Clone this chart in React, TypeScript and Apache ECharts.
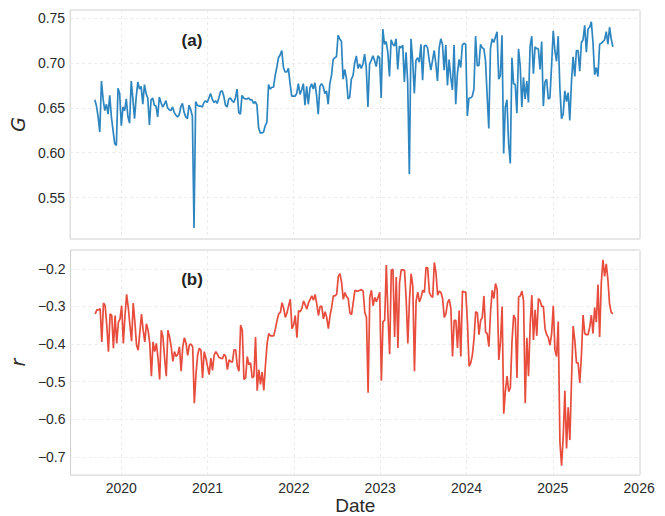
import React, { useEffect, useRef } from "react";
import * as echarts from "echarts";

// ---------- data ----------
const START_DATE = "2019-09-13"; // first weekly observation
const STEP_DAYS = 7;
const xTickYears = [2020, 2021, 2022, 2023, 2024, 2025, 2026];
const gTickLabels = ["0.55", "0.60", "0.65", "0.70", "0.75"];
const rTickLabels = ["−0.7", "−0.6", "−0.5", "−0.4", "−0.3", "−0.2"];

const gValues = [
  0.659, 0.652, 0.640, 0.623, 0.680, 0.660, 0.647, 0.654, 0.643, 0.664,
  0.640, 0.625, 0.610, 0.608, 0.672, 0.666, 0.630, 0.651, 0.647, 0.660,
  0.640, 0.633, 0.680, 0.660, 0.638, 0.662, 0.679, 0.671, 0.674, 0.654,
  0.676, 0.666, 0.661, 0.631, 0.659, 0.661, 0.653, 0.652, 0.640, 0.662,
  0.656, 0.651, 0.654, 0.658, 0.650, 0.648, 0.647, 0.651, 0.645, 0.642,
  0.640, 0.642, 0.651, 0.655, 0.645, 0.640, 0.638, 0.653, 0.648, 0.641,
  0.516, 0.657, 0.653, 0.652, 0.652, 0.651, 0.656, 0.658, 0.656, 0.661,
  0.666, 0.660, 0.656, 0.658, 0.655, 0.661, 0.668, 0.669, 0.663, 0.653,
  0.651, 0.660, 0.661, 0.658, 0.656, 0.661, 0.671, 0.645, 0.643, 0.664,
  0.661, 0.660, 0.660, 0.661, 0.659, 0.659, 0.655, 0.657, 0.653, 0.628,
  0.622, 0.622, 0.623, 0.630, 0.634, 0.676, 0.671, 0.673, 0.673, 0.686,
  0.695, 0.706, 0.709, 0.714, 0.695, 0.690, 0.690, 0.694, 0.677, 0.663,
  0.663, 0.663, 0.666, 0.677, 0.665, 0.670, 0.677, 0.653, 0.674, 0.654,
  0.672, 0.677, 0.671, 0.678, 0.664, 0.643, 0.674, 0.677, 0.674, 0.666,
  0.669, 0.654, 0.677, 0.686, 0.704, 0.706, 0.707, 0.731, 0.727, 0.724,
  0.682, 0.693, 0.683, 0.660, 0.662, 0.682, 0.686, 0.700, 0.708, 0.694,
  0.699, 0.694, 0.699, 0.710, 0.695, 0.651, 0.699, 0.703, 0.708, 0.703,
  0.696, 0.708, 0.706, 0.661, 0.738, 0.721, 0.724, 0.712, 0.685, 0.726,
  0.721, 0.719, 0.727, 0.693, 0.719, 0.717, 0.720, 0.679, 0.712, 0.679,
  0.576, 0.727, 0.703, 0.666, 0.703, 0.706, 0.701, 0.721, 0.681, 0.719,
  0.720, 0.717, 0.703, 0.692, 0.703, 0.714, 0.699, 0.680, 0.717, 0.727,
  0.721, 0.692, 0.720, 0.675, 0.704, 0.684, 0.670, 0.720, 0.654, 0.688,
  0.704, 0.695, 0.720, 0.722, 0.721, 0.641, 0.661, 0.661, 0.663, 0.671,
  0.730, 0.697, 0.697, 0.721, 0.717, 0.716, 0.703, 0.664, 0.627, 0.716,
  0.727, 0.723, 0.729, 0.735, 0.682, 0.686, 0.731, 0.599, 0.651, 0.659,
  0.610, 0.588, 0.706, 0.677, 0.676, 0.644, 0.716, 0.697, 0.651, 0.684,
  0.660, 0.680, 0.656, 0.719, 0.730, 0.688, 0.718, 0.716, 0.716, 0.693,
  0.724, 0.652, 0.679, 0.682, 0.660, 0.661, 0.697, 0.736, 0.714, 0.702,
  0.730, 0.673, 0.638, 0.643, 0.669, 0.657, 0.667, 0.636, 0.679, 0.707,
  0.685, 0.714, 0.714, 0.691, 0.723, 0.726, 0.742, 0.712, 0.738, 0.740,
  0.746, 0.723, 0.687, 0.695, 0.685, 0.721, 0.722, 0.724, 0.726, 0.735,
  0.721, 0.740, 0.727, 0.718,
];

const rValues = [
  -0.320, -0.309, -0.309, -0.306, -0.394, -0.291, -0.298, -0.350, -0.420, -0.320,
  -0.324, -0.411, -0.324, -0.398, -0.342, -0.333, -0.298, -0.398, -0.324, -0.268,
  -0.303, -0.350, -0.392, -0.291, -0.342, -0.403, -0.416, -0.368, -0.320, -0.363,
  -0.394, -0.346, -0.363, -0.398, -0.485, -0.394, -0.420, -0.398, -0.437, -0.494,
  -0.363, -0.381, -0.437, -0.485, -0.363, -0.381, -0.407, -0.446, -0.420, -0.433,
  -0.427, -0.407, -0.472, -0.407, -0.383, -0.398, -0.430, -0.402, -0.400, -0.407,
  -0.557, -0.481, -0.429, -0.411, -0.416, -0.490, -0.420, -0.437, -0.459, -0.481,
  -0.437, -0.470, -0.429, -0.420, -0.427, -0.436, -0.437, -0.439, -0.427, -0.433,
  -0.468, -0.442, -0.446, -0.448, -0.415, -0.415, -0.459, -0.472, -0.349, -0.363,
  -0.494, -0.490, -0.433, -0.455, -0.450, -0.490, -0.485, -0.381, -0.524, -0.468,
  -0.507, -0.474, -0.523, -0.455, -0.398, -0.372, -0.378, -0.378, -0.378, -0.359,
  -0.337, -0.320, -0.316, -0.290, -0.305, -0.329, -0.317, -0.298, -0.281, -0.359,
  -0.349, -0.324, -0.383, -0.311, -0.314, -0.305, -0.285, -0.296, -0.307, -0.290,
  -0.281, -0.272, -0.283, -0.268, -0.294, -0.324, -0.300, -0.300, -0.333, -0.314,
  -0.329, -0.359, -0.324, -0.302, -0.272, -0.272, -0.268, -0.220, -0.213, -0.237,
  -0.281, -0.263, -0.274, -0.279, -0.317, -0.322, -0.290, -0.257, -0.259, -0.259,
  -0.257, -0.255, -0.259, -0.316, -0.329, -0.529, -0.276, -0.257, -0.298, -0.276,
  -0.287, -0.276, -0.262, -0.497, -0.340, -0.337, -0.190, -0.324, -0.427, -0.204,
  -0.201, -0.381, -0.222, -0.410, -0.237, -0.203, -0.203, -0.204, -0.281, -0.398,
  -0.281, -0.213, -0.246, -0.472, -0.285, -0.262, -0.288, -0.276, -0.257, -0.263,
  -0.196, -0.198, -0.263, -0.272, -0.276, -0.183, -0.211, -0.270, -0.259, -0.263,
  -0.279, -0.329, -0.320, -0.290, -0.281, -0.305, -0.433, -0.337, -0.337, -0.410,
  -0.311, -0.433, -0.259, -0.262, -0.262, -0.343, -0.459, -0.450, -0.429, -0.385,
  -0.314, -0.317, -0.375, -0.337, -0.329, -0.272, -0.368, -0.372, -0.407, -0.314,
  -0.257, -0.279, -0.239, -0.255, -0.442, -0.394, -0.300, -0.585, -0.524, -0.485,
  -0.526, -0.516, -0.392, -0.323, -0.333, -0.490, -0.274, -0.272, -0.259, -0.285,
  -0.557, -0.383, -0.485, -0.349, -0.270, -0.389, -0.309, -0.378, -0.279, -0.285,
  -0.300, -0.300, -0.359, -0.375, -0.383, -0.403, -0.372, -0.298, -0.416, -0.433,
  -0.340, -0.659, -0.723, -0.646, -0.524, -0.677, -0.568, -0.655, -0.498, -0.352,
  -0.390, -0.450, -0.450, -0.503, -0.429, -0.323, -0.372, -0.375, -0.375, -0.355,
  -0.323, -0.372, -0.303, -0.342, -0.242, -0.381, -0.237, -0.176, -0.220, -0.187,
  -0.229, -0.294, -0.316, -0.320,
];

// ---------- helpers ----------
const DAY_MS = 24 * 3600 * 1000;
function toFracYear(t: number): number {
  const d = new Date(t);
  const y = d.getUTCFullYear();
  const s = Date.UTC(y, 0, 1);
  const e = Date.UTC(y + 1, 0, 1);
  return y + (t - s) / (e - s);
}
const startMs = Date.parse(START_DATE + "T00:00:00Z");
function weeklyPairs(values: number[]): [number, number][] {
  return values.map((v, i) => [toFracYear(startMs + i * STEP_DAYS * DAY_MS), v]);
}
function isMultiple(v: number, step: number): boolean {
  const k = v / step;
  return Math.abs(k - Math.round(k)) < 1e-4;
}
function fmtMatch(v: number, step: number, digits: number, list: string[]): string {
  if (!isMultiple(v, step)) return "";
  const s = v.toFixed(digits).replace("-", "\u2212");
  return list.indexOf(s) >= 0 ? s : "";
}

const FONT = "'Liberation Sans', Arial, sans-serif";
const TEXT = "#2b2b2b";
const GRID_LINE = { color: "#ebebeb", type: [3, 3] as any, width: 1 };
const BLUE = "#2E86C1";
const RED = "#E74C3C";

export default function App() {
  const ref = useRef<HTMLDivElement>(null);
  useEffect(() => {
    if (!ref.current) return;
    const chart = echarts.init(ref.current, undefined, { renderer: "svg" });
    const xCommon = {
      type: "value",
      min: 2019.413,
      max: 2026.01,
      splitNumber: 7,
      minInterval: 1,
      maxInterval: 1,
      axisLine: { show: false },
      axisTick: { show: false },
      splitLine: { show: true, showMinLine: false, showMaxLine: false, lineStyle: GRID_LINE },
    };
    const option: any = {
      animation: false,
      backgroundColor: "#ffffff",
      textStyle: { fontFamily: FONT },
      grid: [
        { left: 67, right: 25, top: 10, height: 229, show: true, borderColor: "#cfcfcf", borderWidth: 1, backgroundColor: "transparent" },
        { left: 67, right: 25, top: 250, height: 229, show: true, borderColor: "#cfcfcf", borderWidth: 1, backgroundColor: "transparent" },
      ],
      xAxis: [
        { ...xCommon, gridIndex: 0, axisLabel: { show: false } },
        {
          ...xCommon,
          gridIndex: 1,
          axisLabel: {
            show: true,
            fontSize: 14,
            color: TEXT,
            fontFamily: FONT,
            margin: 6,
            formatter: (v: number) => {
              const y = Math.round(v);
              return Math.abs(v - y) < 1e-6 && xTickYears.indexOf(y) >= 0 ? String(y) : "";
            },
          },
          name: "Date",
          nameLocation: "middle",
          nameGap: 19,
          nameTextStyle: { fontSize: 19, color: TEXT, fontFamily: FONT },
        },
      ],
      yAxis: [
        {
          gridIndex: 0,
          type: "value",
          min: 0.5037,
          max: 0.7592,
          splitNumber: 5,
          minInterval: 0.05,
          maxInterval: 0.05,
          axisLine: { show: false },
          axisTick: { show: false },
          splitLine: { show: true, showMinLine: false, showMaxLine: false, lineStyle: GRID_LINE },
          axisLabel: {
            fontSize: 14,
            color: TEXT,
            fontFamily: FONT,
            margin: 5,
            formatter: (v: number) => fmtMatch(v, 0.05, 2, gTickLabels),
          },
          name: "G",
          nameLocation: "middle",
          nameRotate: 90,
          nameGap: 38,
          nameTextStyle: { fontSize: 19, fontStyle: "italic", fontFamily: "'DejaVu Sans', sans-serif", color: TEXT },
        },
        {
          gridIndex: 1,
          type: "value",
          min: -0.748,
          max: -0.15,
          splitNumber: 6,
          minInterval: 0.1,
          maxInterval: 0.1,
          axisLine: { show: false },
          axisTick: { show: false },
          splitLine: { show: true, showMinLine: false, showMaxLine: false, lineStyle: GRID_LINE },
          axisLabel: {
            fontSize: 14,
            color: TEXT,
            fontFamily: FONT,
            margin: 5,
            formatter: (v: number) => fmtMatch(v, 0.1, 1, rTickLabels),
          },
          name: "r",
          nameLocation: "middle",
          nameRotate: 90,
          nameGap: 38,
          nameTextStyle: { fontSize: 19, fontStyle: "italic", fontFamily: "'DejaVu Sans', sans-serif", color: TEXT },
        },
      ],
      series: [
        {
          name: "G",
          type: "line",
          xAxisIndex: 0,
          yAxisIndex: 0,
          data: weeklyPairs(gValues),
          showSymbol: false,
          lineStyle: { color: BLUE, width: 1.7 },
          itemStyle: { color: BLUE },
        },
        {
          name: "r",
          type: "line",
          xAxisIndex: 1,
          yAxisIndex: 1,
          data: weeklyPairs(rValues),
          showSymbol: false,
          lineStyle: { color: RED, width: 1.7 },
          itemStyle: { color: RED },
        },
      ],
      graphic: [
        {
          type: "text",
          x: 192,
          y: 40,
          style: { text: "(a)", fill: "#222222", font: `bold 17px ${FONT}`, textAlign: "center", textVerticalAlign: "middle" },
        },
        {
          type: "text",
          x: 192,
          y: 279,
          style: { text: "(b)", fill: "#222222", font: `bold 17px ${FONT}`, textAlign: "center", textVerticalAlign: "middle" },
        },
      ],
    };
    chart.setOption(option);
    return () => chart.dispose();
  }, []);
  return (
    <div
      ref={ref}
      style={{ position: "fixed", left: 0, top: 0, width: 665, height: 516, background: "#ffffff" }}
    />
  );
}
